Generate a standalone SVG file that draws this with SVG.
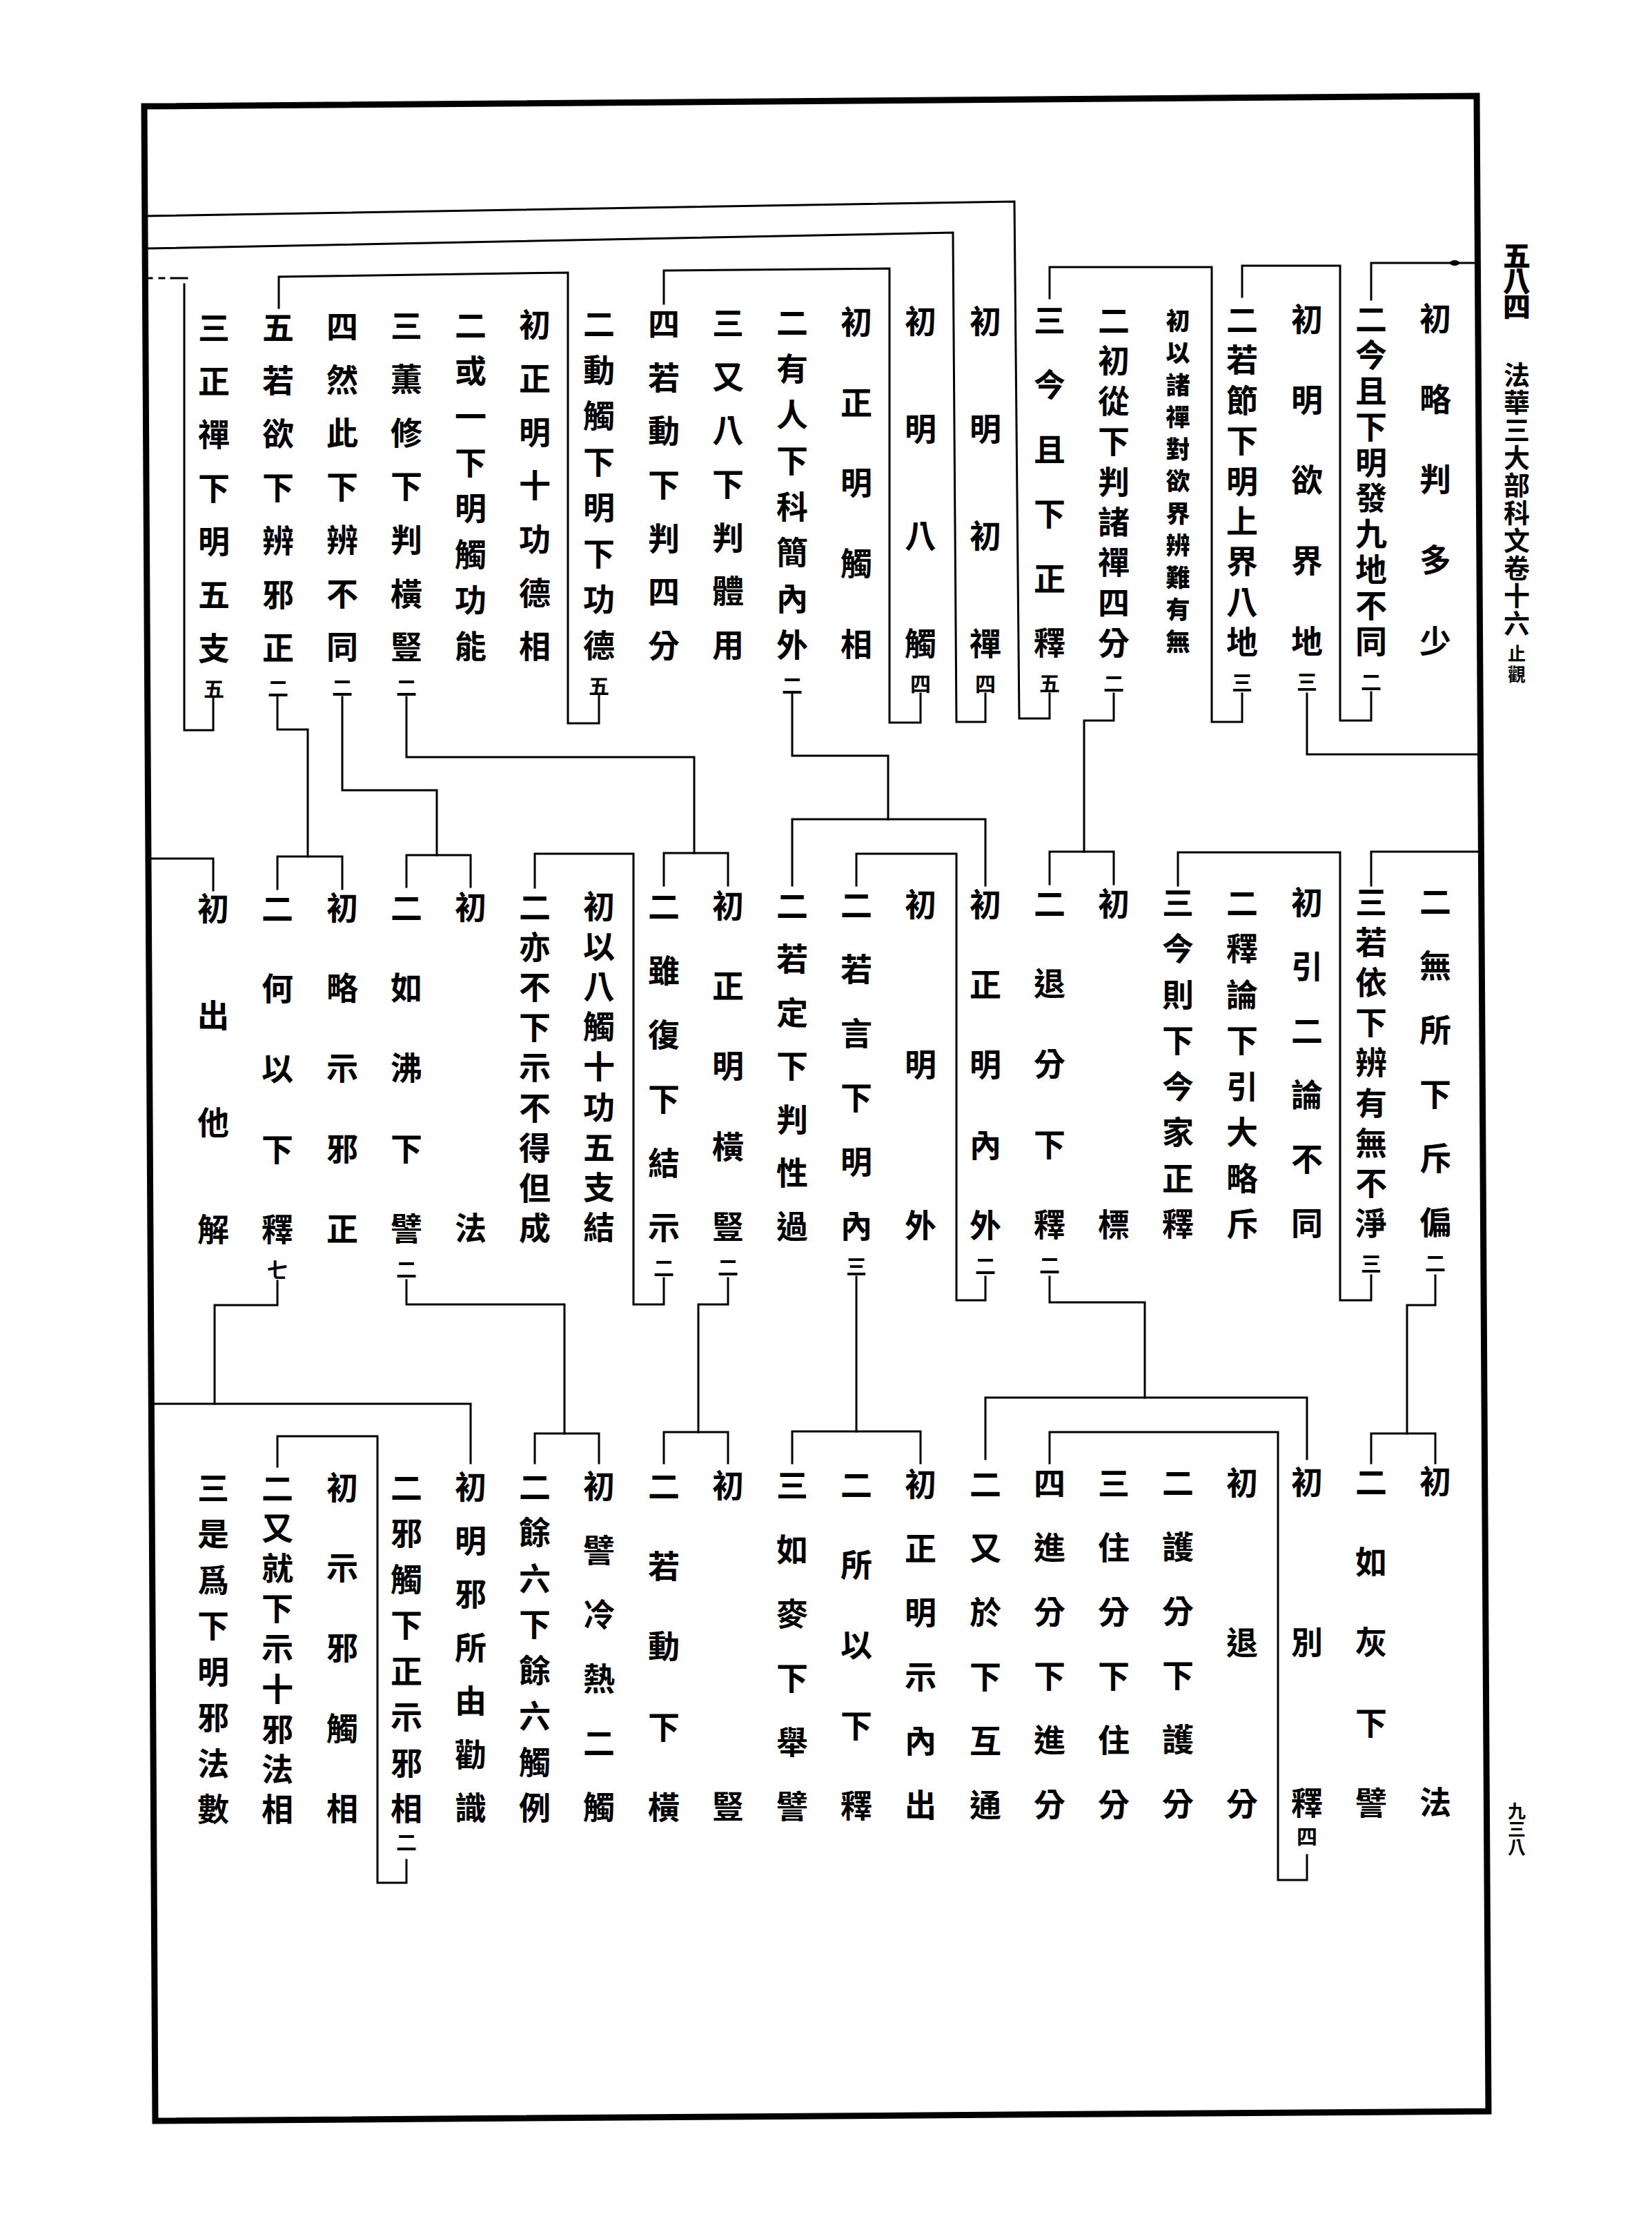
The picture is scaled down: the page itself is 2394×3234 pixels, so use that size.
<svg xmlns="http://www.w3.org/2000/svg" width="2394" height="3234" viewBox="0 0 2394 3234">
<style>
.t{font-family:"Noto Sans CJK TC","Noto Sans CJK SC",sans-serif;font-size:46px;font-weight:700;text-anchor:middle;dominant-baseline:central;fill:#000}
.s{font-size:30px}
.n{font-size:35px;font-weight:900}
.m{font-size:38px}
.h{font-size:40px;font-weight:900}
.k{font-size:26px}
.ln{stroke:#000;stroke-width:3;fill:none;stroke-linecap:square;stroke-linejoin:miter}
.bd{stroke:#000;stroke-width:9;fill:none;stroke-linejoin:miter}
</style>
<rect width="2394" height="3234" fill="#fff"/>
<path class="bd" d="M209 154 L2140 139 L2157 3059 L225 3073 Z"/>
<g id="margin">
<text class="t h" x="2198 2198 2198" y="368 405 442">五八四</text>
<text class="t m" x="2198 2198 2198 2198 2198 2198 2198 2198 2198 2198" y="540 580 620 660 700 740 780 820 860 900">法華三大部科文卷十六</text>
<text class="t k" x="2198 2198" y="945 975">止觀</text>
<text class="t k" x="2198 2198 2198" y="2622 2648 2674">九三八</text>
</g>
<g id="connectors">
<path class="ln" d="M1987 434 V381 H2140"/>
<ellipse cx="2108" cy="381" rx="7" ry="4" fill="#000"/>
<path class="ln" d="M1800 430 V385 H1942 V1044 H1987 V1003"/>
<path class="ln" d="M1521 432 V387 H1756 V1046 H1800 V1005"/>
<path class="ln" d="M1894 1005 V1093 H2144"/>
<path class="ln" d="M1987 1283 V1234 H2145"/>
<path class="ln" d="M1614 1005 V1044 H1571 V1234"/>
<path class="ln" d="M1521 1281 V1234 H1614 V1281"/>
<path class="ln" d="M1521 1005 V1041 H1477 L1470 292 L212 313"/>
<path class="ln" d="M1428 1005 V1046 H1386 L1381 337 L213 360"/>
<path class="ln" d="M1334 1005 V1047 H1289 V389 L962 392 V440"/>
<path class="ln" d="M1148 1006 V1095 H1287 V1187"/>
<path class="ln" d="M1148 1283 V1187 H1428 V1283"/>
<path class="ln" d="M868 1008 V1048 H823 V395 L404 401 V446"/>
<path class="ln" d="M589 1010 V1097 H1006 V1236"/>
<path class="ln" d="M962 1283 V1236 H1055 V1283"/>
<path class="ln" d="M496 1010 V1145 H633 V1239"/>
<path class="ln" d="M589 1285 V1239 H682 V1285"/>
<path class="ln" d="M402 1010 V1057 H446 V1241"/>
<path class="ln" d="M402 1288 V1241 H496 V1288"/>
<path class="ln" d="M309 1010 V1058 H267 V412"/>
<path class="ln" d="M215 403 H220 M231 403 H238 M248 403 H271"/>
<path class="ln" d="M216 1244 H309 V1290"/>
<path class="ln" d="M2080 1848 V1891 H2039 V2077"/>
<path class="ln" d="M1987 2120 V2077 H2080 V2120"/>
<path class="ln" d="M1707 1283 V1235 H1942 V1884 H1987 V1848"/>
<path class="ln" d="M1521 1850 V1887 H1659 V2025"/>
<path class="ln" d="M1428 2114 V2025 H1894 V2114"/>
<path class="ln" d="M1241 1283 V1237 H1386 V1884 H1428 V1850"/>
<path class="ln" d="M1241 1850 V2074"/>
<path class="ln" d="M1148 2120 V2074 H1334 V2120"/>
<path class="ln" d="M1055 1852 V1890 H1012 V2075"/>
<path class="ln" d="M962 2120 V2075 H1055 V2120"/>
<path class="ln" d="M775 1286 V1237 H918 V1890 H962 V1852"/>
<path class="ln" d="M589 1855 V1890 H818 V2077"/>
<path class="ln" d="M775 2120 V2077 H868 V2120"/>
<path class="ln" d="M402 1856 V1891 H311 V2034"/>
<path class="ln" d="M222 2034 H682 V2120"/>
<path class="ln" d="M1521 2120 V2075 H1852 V2724 H1894 V2688"/>
<path class="ln" d="M402 2125 V2081 H547 V2728 H589 V2695"/>
</g>
<g id="T1"><text class="t" x="2080 2080 2080 2080 2080" y="458 575 691 808 925">初略判多少</text></g>
<g id="T2"><text class="t" x="1987 1987 1987 1987 1987 1987 1987 1987 1987 1987" y="459 511 563 615 667 718 770 822 874 926">二今且下明發九地不同</text><text class="t s" x="1987" y="986">二</text></g>
<g id="T3"><text class="t" x="1894 1894 1894 1894 1894" y="459 576 692 809 926">初明欲界地</text><text class="t s" x="1894" y="986">三</text></g>
<g id="T4"><text class="t" x="1800 1800 1800 1800 1800 1800 1800 1800 1800" y="460 518 577 635 694 752 810 869 927">二若節下明上界八地</text><text class="t s" x="1800" y="987">三</text></g>
<g id="T5"><text class="t n" x="1707 1707 1707 1707 1707 1707 1707 1707 1707 1707 1707" y="462 508 555 601 648 694 741 787 834 880 927">初以諸禪對欲界辨難有無</text></g>
<g id="T6"><text class="t" x="1614 1614 1614 1614 1614 1614 1614 1614 1614" y="461 519 578 636 695 753 811 870 928">二初從下判諸禪四分</text><text class="t s" x="1614" y="988">二</text></g>
<g id="T7"><text class="t" x="1521 1521 1521 1521 1521 1521" y="461 554 648 741 835 928">三今且下正釋</text><text class="t s" x="1521" y="988">五</text></g>
<g id="T8"><text class="t" x="1428 1428 1428 1428" y="462 618 773 929">初明初禪</text><text class="t s" x="1428" y="989">四</text></g>
<g id="T9"><text class="t" x="1334 1334 1334 1334" y="462 618 773 929">初明八觸</text><text class="t s" x="1334" y="989">四</text></g>
<g id="T10"><text class="t" x="1241 1241 1241 1241 1241" y="463 580 696 813 930">初正明觸相</text></g>
<g id="T11"><text class="t" x="1148 1148 1148 1148 1148 1148 1148 1148" y="464 531 597 664 731 797 864 931">二有人下科簡內外</text><text class="t s" x="1148" y="991">二</text></g>
<g id="T12"><text class="t" x="1055 1055 1055 1055 1055 1055 1055" y="465 543 620 698 776 853 931">三又八下判體用</text></g>
<g id="T13"><text class="t" x="962 962 962 962 962 962 962" y="466 544 621 699 777 854 932">四若動下判四分</text></g>
<g id="T14"><text class="t" x="868 868 868 868 868 868 868 868" y="466 533 599 666 732 799 865 932">二動觸下明下功德</text><text class="t s" x="868" y="992">五</text></g>
<g id="T15"><text class="t" x="775 775 775 775 775 775 775" y="467 545 623 700 778 856 933">初正明十功德相</text></g>
<g id="T16"><text class="t" x="682 682 682 682 682 682 682 682" y="468 534 600 667 733 800 866 933">二或一下明觸功能</text></g>
<g id="T17"><text class="t" x="589 589 589 589 589 589 589" y="469 546 624 701 779 857 934">三薫修下判橫豎</text><text class="t s" x="589" y="994">二</text></g>
<g id="T18"><text class="t" x="496 496 496 496 496 496 496" y="470 547 624 702 779 857 934">四然此下辨不同</text><text class="t s" x="496" y="994">二</text></g>
<g id="T19"><text class="t" x="403 403 403 403 403 403 403" y="471 548 625 703 780 858 935">五若欲下辨邪正</text><text class="t s" x="403" y="995">二</text></g>
<g id="T20"><text class="t" x="310 310 310 310 310 310 310" y="472 549 626 704 781 858 936">三正禪下明五支</text><text class="t s" x="310" y="996">五</text></g>
<g id="M1"><text class="t" x="2080 2080 2080 2080 2080 2080" y="1303 1396 1489 1582 1675 1768">二無所下斥偏</text><text class="t s" x="2080" y="1828">二</text></g>
<g id="M2"><text class="t" x="1987 1987 1987 1987 1987 1987 1987 1987 1987" y="1304 1362 1420 1478 1536 1595 1653 1711 1769">三若依下辨有無不淨</text><text class="t s" x="1987" y="1829">三</text></g>
<g id="M3"><text class="t" x="1894 1894 1894 1894 1894 1894" y="1304 1397 1490 1583 1676 1769">初引二論不同</text></g>
<g id="M4"><text class="t" x="1800 1800 1800 1800 1800 1800 1800 1800" y="1305 1371 1438 1504 1571 1637 1704 1770">二釋論下引大略斥</text></g>
<g id="M5"><text class="t" x="1707 1707 1707 1707 1707 1707 1707 1707" y="1305 1371 1438 1504 1571 1637 1704 1770">三今則下今家正釋</text></g>
<g id="M6"><text class="t" x="1614 1614" y="1306 1771">初標</text></g>
<g id="M7"><text class="t" x="1521 1521 1521 1521 1521" y="1306 1422 1538 1655 1771">二退分下釋</text><text class="t s" x="1521" y="1831">二</text></g>
<g id="M8"><text class="t" x="1428 1428 1428 1428 1428" y="1307 1423 1539 1656 1772">初正明內外</text><text class="t s" x="1428" y="1832">二</text></g>
<g id="M9"><text class="t" x="1334 1334 1334" y="1307 1539 1772">初明外</text></g>
<g id="M10"><text class="t" x="1241 1241 1241 1241 1241 1241" y="1308 1401 1494 1587 1680 1773">二若言下明內</text><text class="t s" x="1241" y="1833">三</text></g>
<g id="M11"><text class="t" x="1148 1148 1148 1148 1148 1148 1148" y="1309 1386 1464 1541 1619 1696 1774">二若定下判性過</text></g>
<g id="M12"><text class="t" x="1055 1055 1055 1055 1055" y="1309 1425 1541 1658 1774">初正明橫豎</text><text class="t s" x="1055" y="1834">二</text></g>
<g id="M13"><text class="t" x="962 962 962 962 962 962" y="1310 1403 1496 1589 1682 1775">二雖復下結示</text><text class="t s" x="962" y="1835">二</text></g>
<g id="M14"><text class="t" x="868 868 868 868 868 868 868 868 868" y="1310 1368 1426 1484 1542 1601 1659 1717 1775">初以八觸十功五支結</text></g>
<g id="M15"><text class="t" x="775 775 775 775 775 775 775 775 775" y="1311 1369 1427 1485 1543 1602 1660 1718 1776">二亦不下示不得但成</text></g>
<g id="M16"><text class="t" x="682 682" y="1311 1776">初法</text></g>
<g id="M17"><text class="t" x="589 589 589 589 589" y="1312 1428 1544 1661 1777">二如沸下譬</text><text class="t s" x="589" y="1837">二</text></g>
<g id="M18"><text class="t" x="496 496 496 496 496" y="1312 1428 1544 1661 1777">初略示邪正</text></g>
<g id="M19"><text class="t" x="402 402 402 402 402" y="1313 1429 1545 1662 1778">二何以下釋</text><text class="t s" x="402" y="1838">七</text></g>
<g id="M20"><text class="t" x="309 309 309 309" y="1313 1468 1623 1778">初出他解</text></g>
<g id="B1"><text class="t" x="2080 2080" y="2143 2608">初法</text></g>
<g id="B2"><text class="t" x="1987 1987 1987 1987 1987" y="2144 2260 2376 2493 2609">二如灰下譬</text></g>
<g id="B3"><text class="t" x="1894 1894 1894" y="2144 2376 2609">初別釋</text><text class="t s" x="1894" y="2659">四</text></g>
<g id="B4"><text class="t" x="1800 1800 1800" y="2145 2377 2610">初退分</text></g>
<g id="B5"><text class="t" x="1707 1707 1707 1707 1707 1707" y="2145 2238 2331 2424 2517 2610">二護分下護分</text></g>
<g id="B6"><text class="t" x="1614 1614 1614 1614 1614 1614" y="2146 2239 2332 2425 2518 2611">三住分下住分</text></g>
<g id="B7"><text class="t" x="1521 1521 1521 1521 1521 1521" y="2146 2239 2332 2425 2518 2611">四進分下進分</text></g>
<g id="B8"><text class="t" x="1428 1428 1428 1428 1428 1428" y="2147 2240 2333 2426 2519 2612">二又於下互通</text></g>
<g id="B9"><text class="t" x="1334 1334 1334 1334 1334 1334" y="2147 2240 2333 2426 2519 2612">初正明示內出</text></g>
<g id="B10"><text class="t" x="1241 1241 1241 1241 1241" y="2148 2264 2380 2497 2613">二所以下釋</text></g>
<g id="B11"><text class="t" x="1148 1148 1148 1148 1148 1148" y="2149 2242 2335 2428 2521 2614">三如麥下舉譬</text></g>
<g id="B12"><text class="t" x="1055 1055" y="2149 2614">初豎</text></g>
<g id="B13"><text class="t" x="962 962 962 962 962" y="2150 2266 2382 2499 2615">二若動下橫</text></g>
<g id="B14"><text class="t" x="868 868 868 868 868 868" y="2150 2243 2336 2429 2522 2615">初譬冷熱二觸</text></g>
<g id="B15"><text class="t" x="775 775 775 775 775 775 775 775" y="2151 2217 2284 2350 2417 2483 2550 2616">二餘六下餘六觸例</text></g>
<g id="B16"><text class="t" x="682 682 682 682 682 682 682" y="2151 2229 2306 2384 2461 2539 2616">初明邪所由勸識</text></g>
<g id="B17"><text class="t" x="589 589 589 589 589 589 589 589" y="2152 2218 2285 2351 2418 2484 2551 2617">二邪觸下正示邪相</text><text class="t s" x="589" y="2667">二</text></g>
<g id="B18"><text class="t" x="496 496 496 496 496" y="2152 2268 2384 2501 2617">初示邪觸相</text></g>
<g id="B19"><text class="t" x="402 402 402 402 402 402 402 402 402" y="2153 2211 2269 2327 2385 2444 2502 2560 2618">二又就下示十邪法相</text></g>
<g id="B20"><text class="t" x="309 309 309 309 309 309 309 309" y="2153 2219 2286 2352 2419 2485 2552 2618">三是爲下明邪法數</text></g>
</svg>
